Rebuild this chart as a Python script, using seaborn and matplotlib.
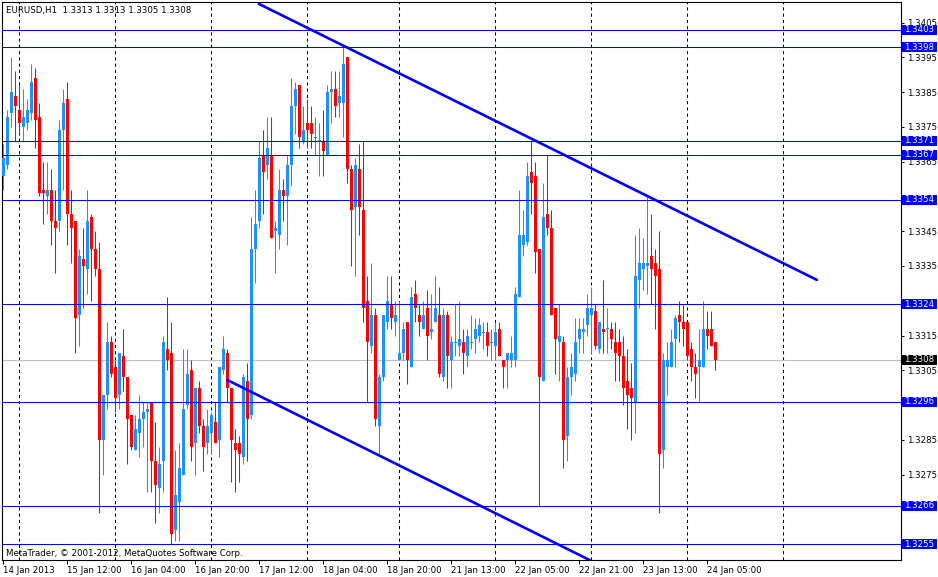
import matplotlib
matplotlib.use("Agg")
import matplotlib.pyplot as plt
import matplotlib.transforms as mtransforms
from matplotlib.patches import Rectangle
import numpy as np
import pandas as pd
import seaborn as sns

# EURUSD H1 candles, 14 Jan 20:00 .. 24 Jan 08:00
opens = [1.3361, 1.3364, 1.3379, 1.3384, 1.3380, 1.3375, 1.3376, 1.3379, 1.3389, 1.3378,
         1.3357, 1.3355, 1.3357, 1.3348, 1.3348, 1.3374, 1.3383, 1.3350, 1.3348, 1.3321,
         1.3337, 1.3334, 1.3349, 1.3340, 1.3334, 1.3285, 1.3298, 1.3313, 1.3306, 1.3298,
         1.3309, 1.3303, 1.3292, 1.3282, 1.3287, 1.3291, 1.3293, 1.3296, 1.3279, 1.3271,
         1.3279, 1.3311, 1.3310, 1.3259, 1.3267, 1.3275, 1.3295, 1.3305, 1.3284, 1.3300,
         1.3289, 1.3284, 1.3287, 1.3290, 1.3285, 1.3305, 1.3310, 1.3300, 1.3284, 1.3284,
         1.3280, 1.3302, 1.3292, 1.3340, 1.3348, 1.3367, 1.3364, 1.3367, 1.3345, 1.3344,
         1.3357, 1.3355, 1.3364, 1.3381, 1.3387, 1.3371, 1.3376, 1.3376, 1.3372, 1.3371,
         1.3371, 1.3367, 1.3385, 1.3386, 1.3382, 1.3382, 1.3395, 1.3363, 1.3352, 1.3363,
         1.3351, 1.3325, 1.3312, 1.3321, 1.3289, 1.3303, 1.3319, 1.3324, 1.3319, 1.3308,
         1.3310, 1.3319, 1.3306, 1.3327, 1.3321, 1.3317, 1.3323, 1.3316, 1.3319, 1.3321,
         1.3303, 1.3321, 1.3308, 1.3313, 1.3312, 1.3313, 1.3309, 1.3313, 1.3314, 1.3315,
         1.3316, 1.3316, 1.3313, 1.3312, 1.3317, 1.3308, 1.3308, 1.3308, 1.3308, 1.3326,
         1.3341, 1.3342, 1.3362, 1.3361, 1.3340, 1.3302, 1.3350, 1.3346, 1.3323, 1.3313,
         1.3313, 1.3286, 1.3303, 1.3304, 1.3314, 1.3316, 1.3318, 1.3321, 1.3322, 1.3311,
         1.3317, 1.3317, 1.3317, 1.3313, 1.3313, 1.3309, 1.3302, 1.3300, 1.3296, 1.3331,
         1.3334, 1.3335, 1.3338, 1.3336, 1.3334, 1.3282, 1.3306, 1.3306, 1.3314, 1.3321,
         1.3319, 1.3319, 1.3311, 1.3306, 1.3306, 1.3306, 1.3317, 1.3317, 1.3313]
highs = [1.3370, 1.3380, 1.3395, 1.3391, 1.3387, 1.3386, 1.3383, 1.3393, 1.3392, 1.3382,
         1.3365, 1.3365, 1.3363, 1.3357, 1.3377, 1.3386, 1.3388, 1.3357, 1.3348, 1.3340,
         1.3346, 1.3357, 1.3350, 1.3345, 1.3342, 1.3298, 1.3319, 1.3315, 1.3308, 1.3310,
         1.3317, 1.3303, 1.3292, 1.3292, 1.3298, 1.3296, 1.3296, 1.3296, 1.3290, 1.3283,
         1.3315, 1.3326, 1.3319, 1.3282, 1.3284, 1.3311, 1.3311, 1.3308, 1.3300, 1.3302,
         1.3291, 1.3294, 1.3293, 1.3296, 1.3306, 1.3315, 1.3311, 1.3300, 1.3288, 1.3286,
         1.3304, 1.3307, 1.3349, 1.3357, 1.3371, 1.3374, 1.3378, 1.3378, 1.3348, 1.3363,
         1.3360, 1.3367, 1.3389, 1.3388, 1.3387, 1.3381, 1.3383, 1.3381, 1.3378, 1.3376,
         1.3380, 1.3387, 1.3391, 1.3391, 1.3391, 1.3398, 1.3395, 1.3364, 1.3366, 1.3370,
         1.3371, 1.3332, 1.3336, 1.3323, 1.3304, 1.3321, 1.3332, 1.3332, 1.3325, 1.3325,
         1.3319, 1.3319, 1.3329, 1.3331, 1.3324, 1.3325, 1.3328, 1.3327, 1.3332, 1.3329,
         1.3323, 1.3322, 1.3315, 1.3324, 1.3325, 1.3317, 1.3317, 1.3321, 1.3320, 1.3320,
         1.3319, 1.3319, 1.3317, 1.3319, 1.3319, 1.3308, 1.3310, 1.3315, 1.3329, 1.3357,
         1.3351, 1.3365, 1.3371, 1.3365, 1.3340, 1.3359, 1.3367, 1.3351, 1.3323, 1.3324,
         1.3315, 1.3306, 1.3310, 1.3320, 1.3320, 1.3320, 1.3327, 1.3329, 1.3324, 1.3319,
         1.3331, 1.3323, 1.3319, 1.3319, 1.3317, 1.3315, 1.3311, 1.3307, 1.3344, 1.3346,
         1.3343, 1.3355, 1.3350, 1.3340, 1.3345, 1.3310, 1.3313, 1.3317, 1.3321, 1.3325,
         1.3324, 1.3319, 1.3313, 1.3310, 1.3317, 1.3325, 1.3322, 1.3322, 1.3313]
lows = [1.3357, 1.3363, 1.3375, 1.3371, 1.3373, 1.3371, 1.3374, 1.3377, 1.3369, 1.3355,
        1.3347, 1.3350, 1.3341, 1.3333, 1.3345, 1.3357, 1.3341, 1.3336, 1.3310, 1.3312,
        1.3323, 1.3327, 1.3325, 1.3332, 1.3264, 1.3275, 1.3294, 1.3303, 1.3293, 1.3294,
        1.3299, 1.3278, 1.3282, 1.3282, 1.3280, 1.3283, 1.3270, 1.3270, 1.3261, 1.3264,
        1.3270, 1.3305, 1.3255, 1.3256, 1.3256, 1.3275, 1.3294, 1.3279, 1.3275, 1.3287,
        1.3276, 1.3281, 1.3281, 1.3284, 1.3280, 1.3304, 1.3296, 1.3273, 1.3270, 1.3273,
        1.3278, 1.3279, 1.3291, 1.3330, 1.3346, 1.3350, 1.3360, 1.3343, 1.3333, 1.3340,
        1.3348, 1.3341, 1.3358, 1.3373, 1.3369, 1.3370, 1.3369, 1.3369, 1.3367, 1.3361,
        1.3361, 1.3367, 1.3376, 1.3378, 1.3378, 1.3372, 1.3359, 1.3335, 1.3332, 1.3344,
        1.3319, 1.3296, 1.3310, 1.3289, 1.3281, 1.3302, 1.3317, 1.3317, 1.3315, 1.3308,
        1.3308, 1.3301, 1.3306, 1.3319, 1.3315, 1.3317, 1.3308, 1.3314, 1.3319, 1.3303,
        1.3302, 1.3300, 1.3300, 1.3309, 1.3309, 1.3304, 1.3306, 1.3311, 1.3310, 1.3313,
        1.3311, 1.3309, 1.3308, 1.3308, 1.3309, 1.3300, 1.3300, 1.3306, 1.3306, 1.3326,
        1.3338, 1.3341, 1.3350, 1.3333, 1.3266, 1.3302, 1.3344, 1.3321, 1.3304, 1.3302,
        1.3277, 1.3279, 1.3298, 1.3302, 1.3310, 1.3310, 1.3315, 1.3310, 1.3311, 1.3310,
        1.3310, 1.3310, 1.3311, 1.3302, 1.3302, 1.3295, 1.3288, 1.3285, 1.3287, 1.3323,
        1.3328, 1.3327, 1.3324, 1.3317, 1.3264, 1.3277, 1.3298, 1.3306, 1.3306, 1.3313,
        1.3312, 1.3308, 1.3302, 1.3297, 1.3296, 1.3306, 1.3311, 1.3312, 1.3305]
closes = [1.3366, 1.3378, 1.3385, 1.3381, 1.3376, 1.3378, 1.3380, 1.3388, 1.3377, 1.3356,
          1.3356, 1.3357, 1.3348, 1.3346, 1.3374, 1.3382, 1.3350, 1.3346, 1.3320, 1.3338,
          1.3335, 1.3348, 1.3340, 1.3334, 1.3285, 1.3298, 1.3313, 1.3304, 1.3297, 1.3310,
          1.3303, 1.3291, 1.3283, 1.3288, 1.3291, 1.3293, 1.3294, 1.3279, 1.3272, 1.3278,
          1.3313, 1.3308, 1.3258, 1.3269, 1.3277, 1.3294, 1.3304, 1.3283, 1.3300, 1.3289,
          1.3283, 1.3289, 1.3292, 1.3284, 1.3306, 1.3311, 1.3300, 1.3285, 1.3282, 1.3281,
          1.3303, 1.3291, 1.3340, 1.3347, 1.3366, 1.3362, 1.3369, 1.3343, 1.3346, 1.3357,
          1.3355, 1.3364, 1.3381, 1.3386, 1.3372, 1.3374, 1.3374, 1.3373, 1.3372, 1.3371,
          1.3368, 1.3385, 1.3386, 1.3381, 1.3384, 1.3393, 1.3363, 1.3351, 1.3364, 1.3352,
          1.3323, 1.3313, 1.3321, 1.3291, 1.3303, 1.3321, 1.3325, 1.3320, 1.3321, 1.3310,
          1.3317, 1.3308, 1.3326, 1.3323, 1.3319, 1.3321, 1.3315, 1.3317, 1.3323, 1.3304,
          1.3321, 1.3309, 1.3313, 1.3313, 1.3314, 1.3310, 1.3315, 1.3313, 1.3317, 1.3318,
          1.3316, 1.3312, 1.3313, 1.3316, 1.3309, 1.3306, 1.3310, 1.3310, 1.3327, 1.3344,
          1.3344, 1.3361, 1.3359, 1.3339, 1.3303, 1.3349, 1.3346, 1.3321, 1.3314, 1.3315,
          1.3285, 1.3303, 1.3306, 1.3313, 1.3317, 1.3317, 1.3323, 1.3323, 1.3312, 1.3319,
          1.3316, 1.3317, 1.3314, 1.3310, 1.3309, 1.3300, 1.3298, 1.3297, 1.3332, 1.3336,
          1.3336, 1.3336, 1.3334, 1.3332, 1.3281, 1.3308, 1.3308, 1.3313, 1.3320, 1.3319,
          1.3317, 1.3309, 1.3306, 1.3304, 1.3308, 1.3317, 1.3315, 1.3312, 1.3308]

time_labels = ["14 Jan 2013", "15 Jan 12:00", "16 Jan 04:00", "16 Jan 20:00",
               "17 Jan 12:00", "18 Jan 04:00", "18 Jan 20:00", "21 Jan 13:00",
               "22 Jan 05:00", "22 Jan 21:00", "23 Jan 13:00", "24 Jan 05:00"]
label_bars = [0, 16, 32, 48, 64, 80, 96, 112, 128, 144, 160, 176]
grid_bars = [4, 28, 52, 76, 99, 123, 147, 171, 195]

levels = [1.3403, 1.3398, 1.3371, 1.3367, 1.3354, 1.3324, 1.3296, 1.3266, 1.3255]
price_ticks = [1.3255, 1.3265, 1.3275, 1.3285, 1.3295, 1.3305, 1.3315, 1.3325,
               1.3335, 1.3345, 1.3355, 1.3365, 1.3375, 1.3385, 1.3395, 1.3405]
# scale labels that sit completely under a level box
hidden_ticks = [1.3255, 1.3265, 1.3295, 1.3325, 1.3355]

upper_bars = [63.9, 203.4]
upper_prices = [1.34104, 1.33310]
lower_bars = [56, 152]
lower_prices = [1.33022, 1.32473]

BULL = "#1e90ff"
BEAR = "#ff0000"
LEVEL = "#0000ff"
W, H = 938, 577
PX_PER_PRICE = 34760.0   # chart scale: pixels per 1.0 of price
FS = 6.2

sns.set_style("white")
plt.rcParams["font.family"] = ["DejaVu Sans"]

df = pd.DataFrame({"open": opens, "high": highs, "low": lows, "close": closes})
df["bar"] = np.arange(len(df))
df["up"] = df["close"] >= df["open"]
df["color"] = np.where(df["up"], BULL, BEAR)
one_px = 1.0 / PX_PER_PRICE

fig = plt.figure(figsize=(W / 100, H / 100), dpi=100, facecolor="white")
ax = fig.add_axes([2 / W, 17 / H, 899 / W, 558 / H])
ax.set_facecolor("white")

# vertical dashed grid
for b in grid_bars:
    ax.axvline(b, color="black", lw=0.75, ls=(0, (3, 3)), zorder=1)

last = df.iloc[-1]
ax.axhline(last["close"], color="#c0c0c0", lw=0.75, zorder=1.5)

# candles
ax.vlines(df["bar"], df["low"], df["high"], colors=df["color"], lw=0.75, zorder=3)
span = (df["close"] - df["open"]).abs()
body_h = np.maximum(span, one_px)
body_lo = np.where(span < one_px, df["open"] - one_px / 2, np.minimum(df["open"], df["close"]))
ax.bar(df["bar"], body_h, bottom=body_lo, width=0.75, color=df["color"], linewidth=0, zorder=4)

# horizontal levels and trendlines
for lv in levels:
    ax.axhline(lv, color=LEVEL, lw=0.75, zorder=5)
sns.lineplot(x=upper_bars, y=upper_prices, ax=ax, color=LEVEL, lw=1.9, zorder=6)
sns.lineplot(x=lower_bars, y=lower_prices, ax=ax, color=LEVEL, lw=1.9, zorder=6)

ax.set_xlim((2 - 3.3) / 4, (901 - 3.3) / 4)
ax.set_ylim(1.3398 - 513 * one_px, 1.3398 + 45 * one_px)

ax.yaxis.tick_right()
ax.set_yticks(price_ticks)
ax.set_yticklabels(["" if p in hidden_ticks else f"{p:.4f}" for p in price_ticks])
ax.set_xticks(label_bars)
ax.set_xticklabels(time_labels, ha="left")
ax.tick_params(axis="y", length=2.5, width=0.75, pad=2, labelsize=FS, colors="black",
               direction="out", right=True, left=False)
ax.tick_params(axis="x", length=3, width=0.75, pad=1, labelsize=FS, colors="black",
               direction="out", bottom=True)
ax.set_xlabel("")
ax.set_ylabel("")
for sp in ax.spines.values():
    sp.set_color("black")
    sp.set_linewidth(0.8)

# price boxes on the right scale
trans = mtransforms.blended_transform_factory(fig.transFigure, ax.transData)
box_h = 10 * one_px
for lv in levels:
    fig.add_artist(Rectangle((902 / W, lv - box_h / 2), 35 / W, box_h, transform=trans,
                             facecolor=LEVEL, edgecolor="none", zorder=10))
    fig.text(919.5 / W, lv, f"{lv:.4f}", transform=trans, color="white", fontsize=FS,
             ha="center", va="center", zorder=11)
fig.add_artist(Rectangle((902 / W, last["close"] - box_h / 2), 35 / W, box_h, transform=trans,
                         facecolor="black", edgecolor="none", zorder=10))
fig.text(919.5 / W, last["close"], f"{last['close']:.4f}", transform=trans, color="white",
         fontsize=FS, ha="center", va="center", zorder=11)

fig.text(6 / W, 1 - 10 / H,
         f"EURUSD,H1  {last['open']:.4f} {last['high']:.4f} {last['low']:.4f} {last['close']:.4f}",
         fontsize=FS, color="black", ha="left", va="center")
fig.text(6 / W, 1 - 553 / H, "MetaTrader, \u00a9 2001-2012, MetaQuotes Software Corp.",
         fontsize=FS, color="black", ha="left", va="center")

fig.savefig("out.png", dpi=100, facecolor="white")
